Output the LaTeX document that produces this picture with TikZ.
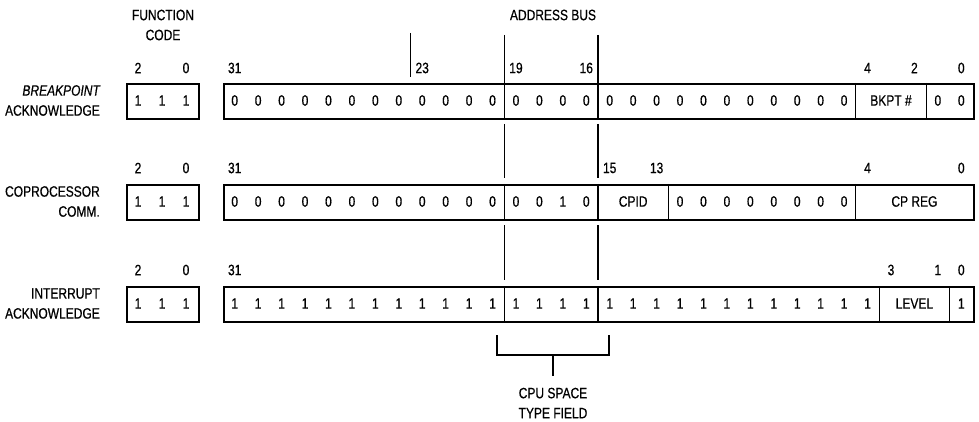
\documentclass[tikz,border=0pt]{standalone}
\usepackage{fontspec}
\setmainfont[FakeStretch=0.8,FakeBold=0.6]{Liberation Sans}
\newcommand\bitC[1]{(223+(31.5-#1)*23.4375)}
\newcommand\bitR[1]{(223+(32-#1)*23.4375)}
\begin{document}
\begin{tikzpicture}[x=1pt,y=-1pt,
  txt/.style={font=\fontsize{15}{20}\selectfont, inner sep=0pt},
  dig/.style={txt},
  rowbox/.style={draw, line width=2.4pt, minimum height=35pt, inner sep=0pt, anchor=north west},
  divider/.style={line width=1.2pt},
]
\useasboundingbox (0,0) rectangle (979,422);

% headings
\node[txt, align=center] (fchead) at (163,25) {FUNCTION\\CODE};
\node[txt] (abhead) at (553,15) {ADDRESS BUS};

% spanning lines (bits 19 and 16)
\foreach \x in {504.25,598} {
  \draw[divider] (\x,35) -- (\x,118);
  \draw[divider] (\x,124) -- (\x,178);
  \draw[divider] (\x,184) -- (\x,219);
  \draw[divider] (\x,225) -- (\x,280);
  \draw[divider] (\x,286) -- (\x,321);
}
\draw[divider] ({\bitR{24}},33) -- ({\bitR{24}},77);

% ---------- Row 1: breakpoint acknowledge ----------
\node[txt, align=right, anchor=east] (rowA) at (100,100.5) {\itshape BREAKPOINT\\ACKNOWLEDGE};
\node[rowbox, minimum width=72pt] (fcA) at (126,83) {};
\node[rowbox, minimum width=750pt] (adA) at (223,83) {};
\foreach \k/\x in {1/138,2/162,3/186} \node[dig] (fcAd\k) at (\x,100.5) {1};
\foreach \i in {31,...,5} \node[dig] (adAd\i) at ({\bitC{\i}},100.5) {0};
\foreach \i in {1,0} \node[dig] (adAd\i) at ({\bitC{\i}},100.5) {0};
\node[dig] (bkpt) at ({(\bitC{4}+\bitC{2})/2},100.5) {BKPT \#};
\foreach \i in {5,2} \draw[divider] ({\bitR{\i}},83) -- ({\bitR{\i}},118);
\node[dig] (lAf2) at (138,68) {2};
\node[dig] (lAf0) at (186,68) {0};
\foreach \i in {31,23,19,16,4,2,0} \node[dig] (lA\i) at ({\bitC{\i}},68) {\i};

% ---------- Row 2: coprocessor comm. ----------
\node[txt, align=right, anchor=east] (rowB) at (100,201.5) {COPROCESSOR\\COMM.};
\node[rowbox, minimum width=72pt] (fcB) at (126,184) {};
\node[rowbox, minimum width=750pt] (adB) at (223,184) {};
\foreach \k/\x in {1/138,2/162,3/186} \node[dig] (fcBd\k) at (\x,201.5) {1};
\foreach \i in {31,...,20} \node[dig] (adBd\i) at ({\bitC{\i}},201.5) {0};
\foreach \i/\v in {19/0,18/0,17/1,16/0} \node[dig] (adBd\i) at ({\bitC{\i}},201.5) {\v};
\foreach \i in {12,...,5} \node[dig] (adBd\i) at ({\bitC{\i}},201.5) {0};
\node[dig] (cpid) at ({(\bitC{15}+\bitC{13})/2},201.5) {CPID};
\node[dig] (cpreg) at ({(\bitC{4}+\bitC{0})/2},201.5) {CP REG};
\foreach \i in {13,5} \draw[divider] ({\bitR{\i}},184) -- ({\bitR{\i}},219);
\node[dig] (lBf2) at (138,168) {2};
\node[dig] (lBf0) at (186,168) {0};
\foreach \i in {31,15,13,4,0} \node[dig] (lB\i) at ({\bitC{\i}},168) {\i};

% ---------- Row 3: interrupt acknowledge ----------
\node[txt, align=right, anchor=east] (rowC) at (100,303.5) {INTERRUPT\\ACKNOWLEDGE};
\node[rowbox, minimum width=72pt] (fcC) at (126,286) {};
\node[rowbox, minimum width=750pt] (adC) at (223,286) {};
\foreach \k/\x in {1/138,2/162,3/186} \node[dig] (fcCd\k) at (\x,303.5) {1};
\foreach \i in {31,...,4} \node[dig] (adCd\i) at ({\bitC{\i}},303.5) {1};
\node[dig] (adCd0) at ({\bitC{0}},303.5) {1};
\node[dig] (level) at ({(\bitC{3}+\bitC{1})/2},303.5) {LEVEL};
\foreach \i in {4,1} \draw[divider] ({\bitR{\i}},286) -- ({\bitR{\i}},321);
\node[dig] (lCf2) at (138,270) {2};
\node[dig] (lCf0) at (186,270) {0};
\foreach \i in {31,3,1,0} \node[dig] (lC\i) at ({\bitC{\i}},270) {\i};

% ---------- CPU space type field bracket ----------
\coordinate (brL) at (497,335);
\coordinate (brR) at (609,335);
\coordinate (brM) at (553,355);
\coordinate (stemEnd) at (553,376);
\draw[divider] (brL) |- (brM) -| (brR);
\draw[divider] (brM) -- (stemEnd);
\node[txt, align=center] (cpuspace) at (553,403) {CPU SPACE\\TYPE FIELD};
\end{tikzpicture}
\end{document}
